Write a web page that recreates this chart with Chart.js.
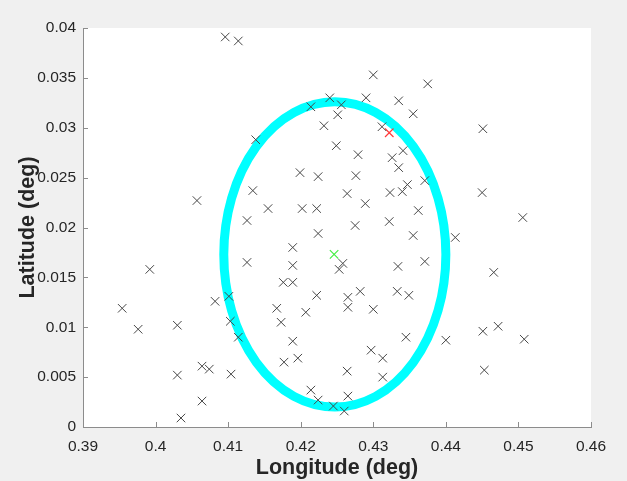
<!DOCTYPE html>
<html>
<head>
<meta charset="utf-8">
<script src="https://cdn.jsdelivr.net/npm/chart.js@4.4.1/dist/chart.umd.min.js"></script>
<style>
    html, body { margin: 0; padding: 0; background: #f0f0f0; }
    canvas { display: block; }
</style>
</head>
<body>
<canvas id="chart" width="627" height="481"></canvas>
<script>
const longitudes = [
    0.4096, 0.4114, 0.4300, 0.4375, 0.4240, 0.4290, 0.4335, 0.4355, 0.4214, 0.4256,
    0.4251, 0.4232, 0.4312, 0.4249, 0.4279, 0.4341, 0.4326, 0.4335, 0.4451, 0.4138,
    0.4057, 0.4134, 0.4126, 0.4126, 0.3992, 0.4199, 0.4224, 0.4276, 0.4371, 0.4264,
    0.4289, 0.4323, 0.4340, 0.4347, 0.4155, 0.4202, 0.4222, 0.4362, 0.4275, 0.4322,
    0.4224, 0.4355, 0.4189, 0.4189, 0.4258, 0.4253, 0.4334, 0.4371, 0.4176, 0.4189,
    0.4450, 0.4506, 0.4413, 0.4466, 0.3954, 0.3976, 0.4030, 0.4082, 0.4101, 0.4103,
    0.4114, 0.4064, 0.4074, 0.4030, 0.4104, 0.4064, 0.4035, 0.4222, 0.4265, 0.4282,
    0.4333, 0.4349, 0.4167, 0.4207, 0.4265, 0.4300, 0.4173, 0.4345, 0.4400, 0.4189,
    0.4297, 0.4313, 0.4177, 0.4196, 0.4264, 0.4313, 0.4214, 0.4224, 0.4265, 0.4245,
    0.4260, 0.4451, 0.4472, 0.4508, 0.4453,
];
const latitudes = [
    0.0391, 0.0387, 0.0353, 0.0344, 0.0330, 0.0330, 0.0327, 0.0314, 0.0321, 0.0323,
    0.0313, 0.0302, 0.0301, 0.0282, 0.0273, 0.0277, 0.0270, 0.0260, 0.0299, 0.0288,
    0.0227, 0.0237, 0.0207, 0.0165, 0.0158, 0.0255, 0.0251, 0.0252, 0.0247, 0.0234,
    0.0224, 0.0235, 0.0236, 0.0243, 0.0219, 0.0219, 0.0219, 0.0217, 0.0202, 0.0206,
    0.0194, 0.0192, 0.0180, 0.0162, 0.0164, 0.0158, 0.0161, 0.0166, 0.0145, 0.0145,
    0.0235, 0.0210, 0.0190, 0.0155, 0.0119, 0.0098, 0.0102, 0.0126, 0.0131, 0.0106,
    0.0090, 0.0061, 0.0058, 0.0052, 0.0053, 0.0026, 0.0009, 0.0132, 0.0130, 0.0136,
    0.0136, 0.0132, 0.0119, 0.0115, 0.0120, 0.0118, 0.0105, 0.0090, 0.0087, 0.0086,
    0.0077, 0.0069, 0.0065, 0.0069, 0.0056, 0.0050, 0.0037, 0.0027, 0.0031, 0.0021,
    0.0016, 0.0096, 0.0101, 0.0088, 0.0057,
];
const truePoint = [0.4322, 0.0295];
const meanPoint = [0.4246, 0.0173];
const ellipseCenter = [0.4247, 0.0173];
const ellipseRadius = [0.0153, 0.0153];
const xTickValues = [0.39, 0.40, 0.41, 0.42, 0.43, 0.44, 0.45, 0.46];
const yTickValues = [0, 0.005, 0.01, 0.015, 0.02, 0.025, 0.03, 0.035, 0.04];

const axisColor = '#8c8c8c';
const textColor = '#262626';
const fontFamily = '"Liberation Sans", Arial, Helvetica, sans-serif';

function tickLabel(value) {
    return String(Number(value.toFixed(4)));
}

const plotBackground = {
    id: 'plotBackground',
    beforeDraw(chart) {
        const { ctx, chartArea } = chart;
        ctx.save();
        ctx.fillStyle = '#ffffff';
        ctx.fillRect(chartArea.left, chartArea.top, chartArea.right - chartArea.left, chartArea.bottom - chartArea.top);
        ctx.restore();
    },
};

const errorEllipse = {
    id: 'errorEllipse',
    beforeDatasetsDraw(chart) {
        const { ctx, scales } = chart;
        const cx = scales.x.getPixelForValue(ellipseCenter[0]);
        const cy = scales.y.getPixelForValue(ellipseCenter[1]);
        const rx = Math.abs(scales.x.getPixelForValue(ellipseCenter[0] + ellipseRadius[0]) - cx);
        const ry = Math.abs(scales.y.getPixelForValue(ellipseCenter[1] + ellipseRadius[1]) - cy);

        ctx.save();
        ctx.strokeStyle = '#00ffff';
        ctx.lineWidth = 9;
        ctx.beginPath();
        ctx.ellipse(cx, cy, rx, ry, 0, 0, Math.PI * 2);
        ctx.stroke();
        ctx.restore();
    },
};

// matlab style ticks pointing into the plot
const innerTicks = {
    id: 'innerTicks',
    afterDraw(chart) {
        const { ctx, scales, chartArea } = chart;
        ctx.save();
        ctx.strokeStyle = axisColor;
        ctx.lineWidth = 1;
        ctx.beginPath();
        xTickValues.forEach((value) => {
            const px = Math.round(scales.x.getPixelForValue(value)) + 0.5;
            ctx.moveTo(px, chartArea.bottom);
            ctx.lineTo(px, chartArea.bottom - 5);
        });
        yTickValues.forEach((value) => {
            const py = Math.round(scales.y.getPixelForValue(value)) + 0.5;
            ctx.moveTo(chartArea.left, py);
            ctx.lineTo(chartArea.left + 5, py);
        });
        ctx.stroke();
        ctx.restore();
    },
};

const points = longitudes.map((lon, index) => ({ x: lon, y: latitudes[index] }));

new Chart(document.getElementById('chart'), {
    type: 'scatter',
    data: {
        datasets: [
            {
                data: points,
                pointStyle: 'crossRot',
                pointRadius: 6,
                pointHoverRadius: 6,
                borderWidth: 1,
                borderColor: '#474747',
                backgroundColor: '#474747',
            },
            {
                data: [{ x: truePoint[0], y: truePoint[1] }],
                pointStyle: 'crossRot',
                pointRadius: 6,
                borderWidth: 1.2,
                borderColor: '#ff3a3a',
            },
            {
                data: [{ x: meanPoint[0], y: meanPoint[1] }],
                pointStyle: 'crossRot',
                pointRadius: 6,
                borderWidth: 1.2,
                borderColor: '#44ee44',
            },
        ],
    },
    options: {
        responsive: false,
        animation: false,
        events: [],
        layout: {
            padding: { top: 28, right: 36, left: 0, bottom: 0 },
        },
        plugins: {
            legend: { display: false },
            tooltip: { enabled: false },
        },
        scales: {
            x: {
                type: 'linear',
                min: 0.39,
                max: 0.46,
                afterBuildTicks(scale) {
                    scale.ticks = xTickValues.map((value) => ({ value }));
                },
                afterFit(scale) {
                    scale.height = 54;
                },
                grid: { display: false, drawTicks: false },
                border: { display: true, color: axisColor, width: 1 },
                ticks: {
                    padding: 10,
                    color: textColor,
                    font: { family: fontFamily, size: 15.5 },
                    maxRotation: 0,
                    autoSkip: false,
                    callback: tickLabel,
                },
                title: {
                    display: true,
                    text: 'Longitude (deg)',
                    color: textColor,
                    font: { family: fontFamily, size: 21.5, weight: 'bold', lineHeight: 1 },
                    padding: { top: 0, bottom: 2 },
                },
            },
            y: {
                type: 'linear',
                min: 0,
                max: 0.04,
                afterBuildTicks(scale) {
                    scale.ticks = yTickValues.map((value) => ({ value }));
                },
                afterFit(scale) {
                    scale.width = 83;
                },
                grid: { display: false, drawTicks: false },
                border: { display: true, color: axisColor, width: 1 },
                ticks: {
                    padding: 7,
                    color: textColor,
                    font: { family: fontFamily, size: 15.5 },
                    autoSkip: false,
                    callback: tickLabel,
                },
                title: {
                    display: true,
                    text: 'Latitude (deg)',
                    color: textColor,
                    font: { family: fontFamily, size: 21.5, weight: 'bold', lineHeight: 1 },
                    padding: { top: 17, bottom: 0 },
                },
            },
        },
    },
    plugins: [plotBackground, errorEllipse, innerTicks],
});
</script>
</body>
</html>
